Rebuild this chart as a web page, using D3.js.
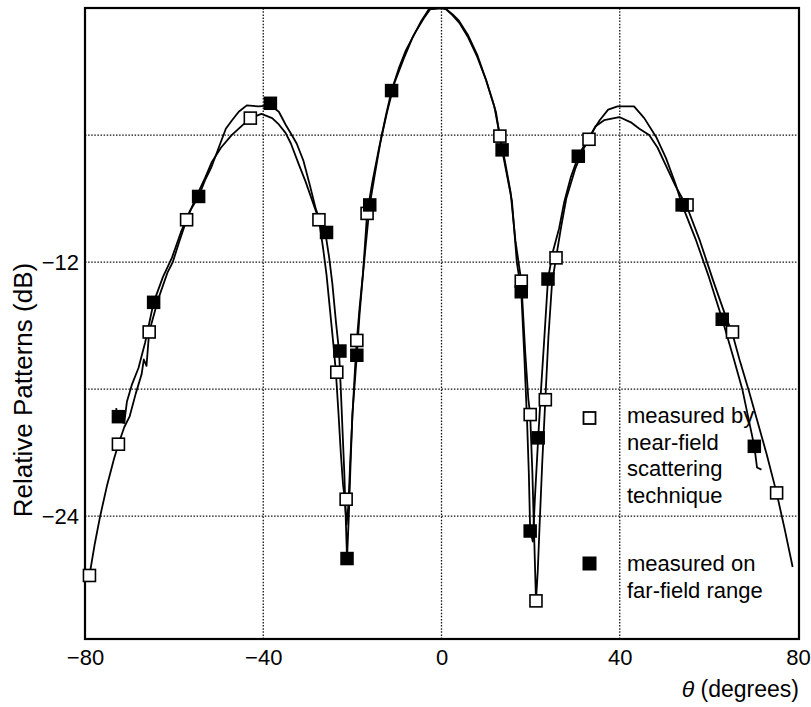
<!DOCTYPE html>
<html>
<head>
<meta charset="utf-8">
<script src="https://cdn.jsdelivr.net/npm/d3@7"></script>
<style>
  html, body { margin: 0; padding: 0; background: #fff; }
  svg { display: block; }
  text { font-family: "Liberation Sans", Arial, Helvetica, sans-serif; fill: #000; }
</style>
</head>
<body>
<svg id="chart" width="811" height="707"></svg>
<script>
// ---------------- data ----------------
const xTicks = [-80, -40, 0, 40, 80];
const xGrid = [-40, 0, 40];
const yTicks = [-12, -24];
const yGrid = [-6, -12, -18, -24];

// near-field scattering technique curve [theta, dB]
const nearFieldCurve = [
  [-79.0,-26.8],[-77.8,-25.3],[-76.6,-24.0],[-75,-22.5],[-73.5,-21.3],[-72.5,-20.6],
  [-71.2,-19.8],[-70,-19.3],[-68.6,-18.2],[-67.3,-17.3],[-66.8,-16.6],[-66.2,-16.9],
  [-65.6,-15.3],[-63.5,-13.7],[-61.5,-12.5],[-60.3,-12.0],[-58.8,-11.0],[-57.2,-10.0],
  [-55,-8.9],[-53,-8.0],[-51.6,-7.3],[-49.5,-6.6],[-47.1,-6.0],[-45,-5.6],[-42.9,-5.2],
  [-40.4,-5.0],[-38,-5.2],[-36.5,-5.5],[-35,-5.9],[-33.8,-6.4],[-32,-7.4],[-30.5,-8.2],
  [-29,-9.1],[-27.5,-10.0],[-26.6,-11.3],[-25.8,-12.6],[-25,-14.3],[-24.3,-15.8],
  [-23.7,-17.2],[-23.1,-19.2],[-22.6,-21],[-22.1,-22.5],[-21.7,-23.2],[-21.3,-24.4],
  [-20.9,-23.5],[-20.5,-21.5],[-20.0,-19.3],[-19.4,-17],[-19,-15.7],[-18.4,-14.2],
  [-17.6,-12.5],[-16.7,-9.7],[-15.5,-8.2],[-14,-6.6],[-12.2,-4.9],[-10.5,-3.5],
  [-8.5,-2.4],[-6.5,-1.4],[-4.5,-0.6],[-2.8,-0.05],[0,0],[1,-0.05],[2.5,-0.35],
  [4,-0.7],[6,-1.4],[8,-2.3],[10,-3.4],[11.8,-4.6],[13.1,-6.05],[14.2,-7.2],
  [15.5,-8.7],[16.6,-11],[17.9,-12.9],[18.8,-16.3],[19.5,-18.5],[19.9,-19.2],
  [20.4,-22],[20.8,-25],[21.2,-28.0],[21.6,-26.6],[22.0,-24.5],[22.6,-21.5],
  [23.3,-18.5],[24.0,-15.5],[24.8,-13.0],[25.7,-11.8],[26.8,-10.4],[28,-9.0],
  [30,-7.6],[32,-6.6],[33.1,-6.2],[34.5,-5.6],[36.5,-5.3],[39.9,-5.15],[42.5,-5.4],
  [44.4,-5.7],[46.6,-6.0],[48.5,-6.6],[50.5,-7.5],[52.5,-8.4],[55.1,-9.4],[58,-11.0],
  [61,-12.9],[63.5,-14.4],[65.3,-15.4],[67,-16.7],[69,-18.1],[71,-19.6],[73,-21.1],
  [75.2,-22.9],[77,-24.6],[78.8,-26.4]
];

// far-field range curve [theta, dB]
const farFieldCurve = [
  [-73.0,-18.9],[-72.6,-19.5],[-71.2,-19.6],[-70.6,-18.6],[-69.5,-17.8],[-68.0,-17.0],
  [-66.5,-15.8],[-64.6,-13.9],[-62.5,-12.7],[-60.5,-11.8],[-58.5,-10.6],[-56.5,-9.6],
  [-54.5,-8.9],[-53,-8.1],[-51.6,-7.5],[-50,-6.6],[-48.4,-5.7],[-47,-5.3],[-45.5,-4.9],
  [-43.7,-4.6],[-41,-4.65],[-38.4,-4.6],[-36.5,-4.9],[-35,-5.5],[-33.6,-6.0],
  [-32.5,-6.4],[-31,-7.2],[-29.5,-8.4],[-28.2,-9.5],[-27,-10.2],[-26,-10.7],
  [-25.2,-11.8],[-24.5,-13],[-23.7,-14.8],[-23,-16.2],[-22.6,-18],[-22.2,-20],
  [-21.8,-22],[-21.5,-24],[-21.2,-26.0],[-20.8,-24],[-20.4,-21.5],[-20,-19.2],
  [-19,-16.4],[-18.4,-14.5],[-17.6,-12.5],[-17,-11.2],[-16.1,-9.3],[-15,-7.9],
  [-13.6,-6.2],[-12.4,-5],[-11.2,-3.9],[-9.5,-2.8],[-8,-2.0],[-6,-1.2],[-4,-0.5],
  [-2.5,-0.05],[0,0],[1,-0.05],[2.5,-0.3],[3.9,-0.6],[6,-1.3],[8,-2.2],[10,-3.4],
  [12.2,-4.9],[13.6,-6.7],[14.6,-7.8],[15.8,-9.1],[16.9,-12],[17.9,-13.4],
  [18.6,-16.5],[19.2,-19.5],[19.6,-22],[19.9,-24.7],[20.5,-25.2],[21.0,-23],
  [21.7,-20.3],[22.4,-17.8],[23.1,-15.5],[23.9,-12.8],[25,-11.5],[26.4,-10.4],
  [27.5,-9.2],[29,-8.0],[30.7,-7.0],[32.5,-6.3],[34,-5.8],[35.5,-5.3],[37.4,-4.8],
  [39.5,-4.65],[43.2,-4.65],[45.5,-5.2],[48.2,-6.1],[50.4,-7.1],[52.5,-8.3],
  [54,-9.3],[57,-10.9],[60,-12.7],[63,-14.7],[65.5,-16.5],[67.5,-18],[69,-19.5],
  [70.2,-20.7],[70.8,-21.7],[71.8,-21.8]
];

// measured points
const nearFieldMarks = [
  [-79,-26.8],[-72.5,-20.6],[-65.6,-15.3],[-57.2,-10.0],[-42.9,-5.2],[-27.5,-10.0],
  [-23.5,-17.2],[-21.4,-23.2],[-19,-15.7],[-16.7,-9.7],[13.1,-6.05],[17.9,-12.9],
  [19.9,-19.2],[21.2,-28.0],[23.3,-18.5],[25.7,-11.8],[33.1,-6.2],[55.1,-9.3],
  [65.3,-15.3],[75.2,-22.9]
];
const farFieldMarks = [
  [-72.5,-19.3],[-64.6,-13.9],[-54.5,-8.9],[-38.4,-4.5],[-25.8,-10.6],[-22.8,-16.2],
  [-21.2,-26.0],[-19,-16.4],[-16.1,-9.3],[-11.2,-3.9],[13.6,-6.7],[17.9,-13.4],
  [19.9,-24.7],[21.7,-20.3],[23.9,-12.8],[30.7,-7.0],[54,-9.3],[63,-14.7],[70.2,-20.7]
];

const legendNear = ["measured by", "near-field", "scattering", "technique"];
const legendFar = ["measured on", "far-field range"];
const yTitle = "Relative Patterns (dB)";
const xTitleSym = "\u03B8";
const xTitleRest = " (degrees)";

// ---------------- drawing ----------------
const svg = d3.select("#chart");
const x = d3.scaleLinear().domain([-80, 80]).range([85, 798]);
const y = d3.scaleLinear().domain([-29.8, 0]).range([639, 8]);
const fmt = d => (d < 0 ? "\u2212" + Math.abs(d) : String(d));

// grid
const grid = svg.append("g");
grid.selectAll("line.vx").data(xGrid).join("line")
  .attr("x1", d => x(d)).attr("x2", d => x(d))
  .attr("y1", y.range()[0]).attr("y2", y.range()[1])
  .attr("stroke", "#111").attr("stroke-width", 1.3).attr("stroke-dasharray", "1.5,1.6");
grid.selectAll("line.hy").data(yGrid).join("line")
  .attr("y1", d => y(d)).attr("y2", d => y(d))
  .attr("x1", x.range()[0]).attr("x2", x.range()[1])
  .attr("stroke", "#111").attr("stroke-width", 1.3).attr("stroke-dasharray", "1.5,1.6");

// axes (labels only, ticks hidden)
const xAxis = d3.axisBottom(x).tickValues(xTicks).tickSize(0).tickPadding(10).tickFormat(fmt);
const gx = svg.append("g").attr("transform", `translate(0,${y.range()[0]})`).call(xAxis);
gx.select(".domain").remove();
gx.selectAll("text").style("font-size", "22px").attr("dy", "0.71em")
  .style("font-family", '"Liberation Sans", Arial, sans-serif');

const yAxis = d3.axisLeft(y).tickValues(yTicks).tickSize(0).tickPadding(6).tickFormat(fmt);
const gy = svg.append("g").attr("transform", `translate(${x.range()[0]},0)`).call(yAxis);
gy.select(".domain").remove();
gy.selectAll("text").style("font-size", "22px")
  .style("font-family", '"Liberation Sans", Arial, sans-serif');

// frame
svg.append("rect")
  .attr("x", x.range()[0]).attr("y", y.range()[1])
  .attr("width", x.range()[1] - x.range()[0] + 1)
  .attr("height", y.range()[0] - y.range()[1])
  .attr("fill", "none").attr("stroke", "#000").attr("stroke-width", 2.2);

// curves
const line = d3.line().x(d => x(d[0])).y(d => y(d[1]));
svg.append("path").datum(nearFieldCurve).attr("d", line)
  .attr("fill", "none").attr("stroke", "#000").attr("stroke-width", 1.8).attr("stroke-linejoin", "round");
svg.append("path").datum(farFieldCurve).attr("d", line)
  .attr("fill", "none").attr("stroke", "#000").attr("stroke-width", 1.8).attr("stroke-linejoin", "round");

// markers
const S = 12;
svg.append("g").selectAll("rect").data(nearFieldMarks).join("rect")
  .attr("x", d => x(d[0]) - S / 2).attr("y", d => y(d[1]) - S / 2)
  .attr("width", S).attr("height", S)
  .attr("fill", "#fff").attr("stroke", "#000").attr("stroke-width", 1.6);
svg.append("g").selectAll("rect").data(farFieldMarks).join("rect")
  .attr("x", d => x(d[0]) - (S + 1.5) / 2).attr("y", d => y(d[1]) - (S + 1.5) / 2)
  .attr("width", S + 1.5).attr("height", S + 1.5)
  .attr("fill", "#000");

// legend
const lg = svg.append("g");
lg.append("rect").attr("x", 583.5).attr("y", 412).attr("width", 12).attr("height", 12)
  .attr("fill", "#fff").attr("stroke", "#000").attr("stroke-width", 1.8);
const t1 = lg.append("text").attr("x", 627).attr("y", 423).style("font-size", "22px");
t1.selectAll("tspan").data(legendNear).join("tspan")
  .attr("x", 627).attr("dy", (d, i) => i === 0 ? 0 : 26.5).text(d => d);
lg.append("rect").attr("x", 582.5).attr("y", 556.5).attr("width", 14).attr("height", 14)
  .attr("fill", "#000");
const t2 = lg.append("text").attr("x", 627).attr("y", 571).style("font-size", "22px");
t2.selectAll("tspan").data(legendFar).join("tspan")
  .attr("x", 627).attr("dy", (d, i) => i === 0 ? 0 : 26.5).text(d => d);

// axis titles
svg.append("text")
  .attr("transform", "translate(32,390) rotate(-90)")
  .attr("text-anchor", "middle").style("font-size", "26px").text(yTitle);
const xt = svg.append("text").attr("x", 799).attr("y", 697)
  .attr("text-anchor", "end").style("font-size", "23px");
xt.append("tspan").style("font-style", "italic").text(xTitleSym);
xt.append("tspan").text(xTitleRest);
</script>
</body>
</html>
